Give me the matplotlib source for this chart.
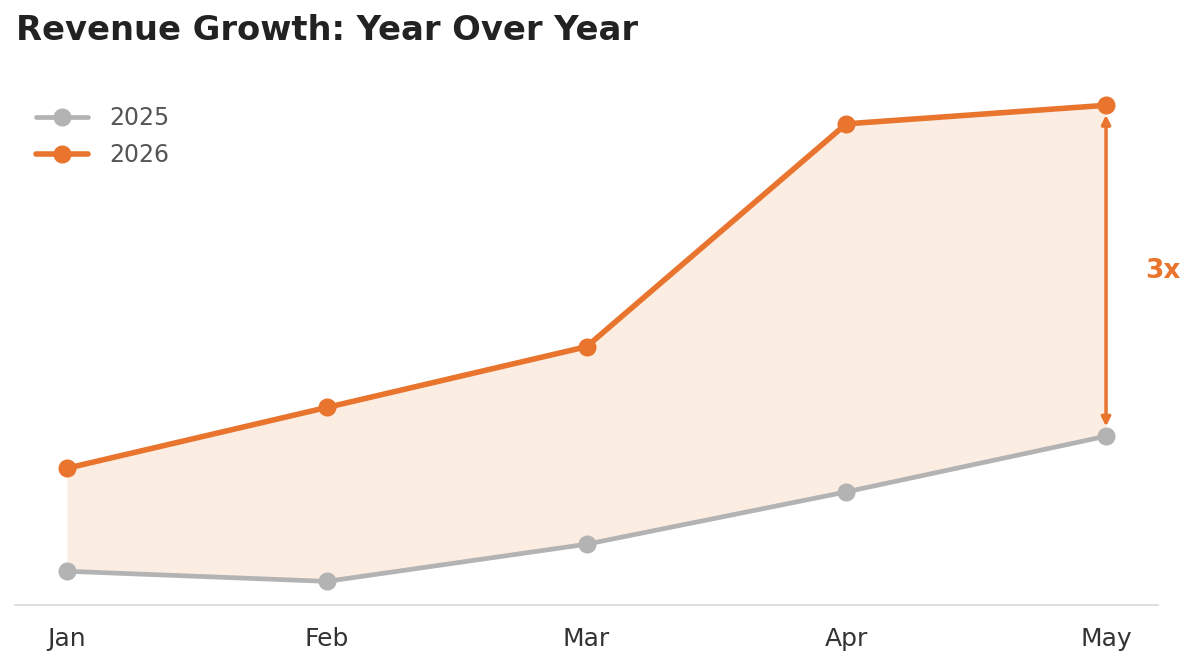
import matplotlib
matplotlib.use("Agg")
import matplotlib.pyplot as plt
import numpy as np

# revenue per month (no y axis, 2026 May = 3x 2025 May)
months = ["Jan", "Feb", "Mar", "Apr", "May"]
rev_2025 = [20, 14, 36, 67, 100]
rev_2026 = [81, 117, 153, 285, 296]
ratio_label = "3x"

GREY = "#b3b3b3"
ORANGE = "#e8742d"

fig = plt.figure(figsize=(12, 6.68), dpi=100)
ax = fig.add_axes([0.0125, 0.0943, 0.9525, 0.786])

x = np.arange(len(months))
ax.fill_between(x, rev_2025, rev_2026, color=ORANGE, alpha=0.13, linewidth=0)
ax.plot(x, rev_2025, color=GREY, lw=3.4, marker="o", markersize=12, label="2025",
        solid_capstyle="round")
ax.plot(x, rev_2026, color=ORANGE, lw=4, marker="o", markersize=12, label="2026",
        solid_capstyle="round")

# double arrow between the two May points
ax.annotate("", xy=(x[-1], rev_2026[-1]), xytext=(x[-1], rev_2025[-1]),
            arrowprops=dict(arrowstyle="<|-|>", color=ORANGE, lw=2.5,
                            shrinkA=7, shrinkB=7, mutation_scale=13))
ax.text(x[-1] + 0.15, (rev_2025[-1] + rev_2026[-1]) / 2, ratio_label,
        color=ORANGE, fontsize=19, fontweight="bold", va="center", ha="left")

ax.set_xlim(-0.2, 4.2)
ax.set_ylim(0, 311)
ax.set_xticks(x)
ax.set_xticklabels(months, fontsize=18, color="#333333")
ax.tick_params(axis="x", length=0, pad=16)
ax.set_yticks([])
for s in ["top", "right", "left"]:
    ax.spines[s].set_visible(False)
ax.spines["bottom"].set_color("#d9d9d9")
ax.spines["bottom"].set_linewidth(1.2)

leg = ax.legend(loc="upper left", frameon=False, fontsize=17, handlelength=2.2,
                bbox_to_anchor=(0.0, 0.99), labelspacing=0.55, handletextpad=0.9)
for t in leg.get_texts():
    t.set_color("#555555")

fig.text(0.0133, 0.955, "Revenue Growth: Year Over Year", fontsize=24.3,
         fontweight="bold", color="#222222", ha="left", va="center")

fig.savefig("out.png", dpi=100, facecolor="white")
